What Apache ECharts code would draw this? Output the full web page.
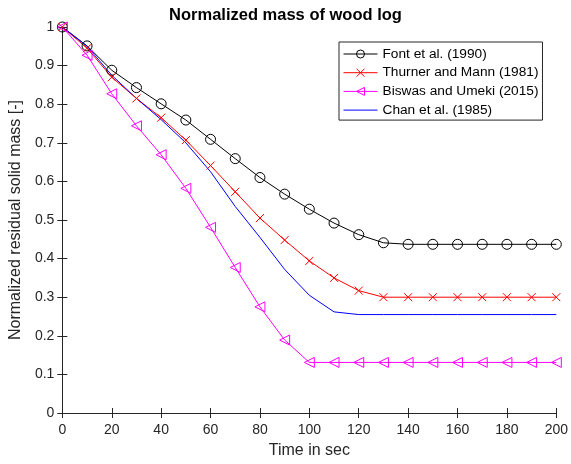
<!DOCTYPE html>
<html><head><meta charset="utf-8">
<script src="https://cdn.jsdelivr.net/npm/echarts@6/dist/echarts.min.js"></script>
<style>html,body{margin:0;padding:0;background:#fff}#c{width:571px;height:464px}</style>
</head><body><div id="c"></div>
<script>
const times = [0,10,20,30,40,50,60,70,80,90,100,110,120,130,140,150,160,170,180,190,200];
const font = [1.0,0.951,0.888,0.843,0.801,0.759,0.709,0.659,0.610,0.567,0.528,0.492,0.462,0.441,0.437,0.437,0.437,0.437,0.437,0.437,0.437];
const thurner = [1.0,0.945,0.870,0.815,0.765,0.707,0.641,0.573,0.505,0.448,0.394,0.350,0.317,0.300,0.300,0.300,0.300,0.300,0.300,0.300,0.300];
const biswas = [1.0,0.927,0.827,0.744,0.669,0.582,0.481,0.377,0.275,0.189,0.131,0.131,0.131,0.131,0.131,0.131,0.131,0.131,0.131,0.131,0.131];
const chan = [1.0,0.950,0.875,0.815,0.760,0.700,0.625,0.535,0.455,0.372,0.305,0.262,0.255,0.255,0.255,0.255,0.255,0.255,0.255,0.255,0.255];
const names = ['Font et al. (1990)','Thurner and Mann (1981)','Biswas and Umeki (2015)','Chan et al. (1985)'];
const titleText = 'Normalized mass of wood log';
const xName = 'Time in sec';
const yName = 'Normalized residual solid mass [-]';

const pair = arr => times.map((t,i)=>[t,arr[i]]);
const axisCol = '#262626';
const FF = '"Liberation Sans", Arial, sans-serif';
const chart = echarts.init(document.getElementById('c'), null, {renderer:'canvas'});
const mk = (name, data, color, symbol, size, rot) => ({
  name, type:'line', data: pair(data), symbol, symbolSize:size, symbolRotate: rot||0,
  showSymbol: symbol !== 'none', animation:false,
  lineStyle:{color, width:1},
  itemStyle:{color:'rgba(255,255,255,0)', borderColor:color, borderWidth:1},
  emphasis:{disabled:true}
});
chart.setOption({
  backgroundColor:'#fff',
  animation:false,
  title:{text:titleText, left:'center', top:2, textStyle:{fontFamily:FF, fontSize:16.5, fontWeight:'bold', color:'#000'}},
  grid:{left:60, right:14, top:27, bottom:47},
  legend:{
    orient:'vertical', left:339, top:42,
    backgroundColor:'#fff', borderColor:axisCol, borderWidth:1,
    padding:[5,4,3,4], itemGap:4.7, itemWidth:34, itemHeight:10,
    textStyle:{fontFamily:FF, fontSize:13.7, lineHeight:14, color:'#000'},
    lineStyle:{width:1},
    itemStyle:{borderWidth:1},
    data: [
      names[0], names[1], names[2],
      {name:names[3], itemStyle:{color:'rgba(0,0,0,0)', borderColor:'rgba(0,0,0,0)', borderWidth:0}}
    ]
  },
  xAxis:[
    {type:'value', min:0, max:200, interval:20, position:'bottom',
     name:xName, nameLocation:'middle', nameGap:30,
     nameTextStyle:{fontFamily:FF, fontSize:16, color:axisCol},
     axisLine:{lineStyle:{color:axisCol}}, axisTick:{inside:true, length:5, lineStyle:{color:axisCol}},
     axisLabel:{fontFamily:FF, fontSize:14, color:axisCol, margin:10}, splitLine:{show:false}},
    {type:'value', min:0, max:200, interval:20, position:'top',
     axisLine:{show:true, lineStyle:{color:axisCol}}, axisTick:{show:true, inside:true, length:5, lineStyle:{color:axisCol}},
     axisLabel:{show:false}, splitLine:{show:false}}
  ],
  yAxis:[
    {type:'value', min:0, max:1, interval:0.1, position:'left',
     name:yName, nameLocation:'middle', nameGap:34,
     nameTextStyle:{fontFamily:FF, fontSize:16, color:axisCol},
     axisLine:{show:true, lineStyle:{color:axisCol}}, axisTick:{show:true, inside:true, length:5, lineStyle:{color:axisCol}},
     axisLabel:{fontFamily:FF, fontSize:14, color:axisCol, margin:8}, splitLine:{show:false}},
    {type:'value', min:0, max:1, interval:0.1, position:'right',
     axisLine:{show:true, lineStyle:{color:axisCol}}, axisTick:{show:true, inside:true, length:5, lineStyle:{color:axisCol}},
     axisLabel:{show:false}, splitLine:{show:false}}
  ],
  series:[
    mk(names[0], font, '#000000', 'circle', 10),
    mk(names[1], thurner, '#ff0000', 'path://M0,0L10,10M10,0L0,10', 8),
    mk(names[2], biswas, '#ff00ff', 'triangle', 10, 90),
    mk(names[3], chan, '#0000ff', 'none', 0)
  ]
});
</script></body></html>
